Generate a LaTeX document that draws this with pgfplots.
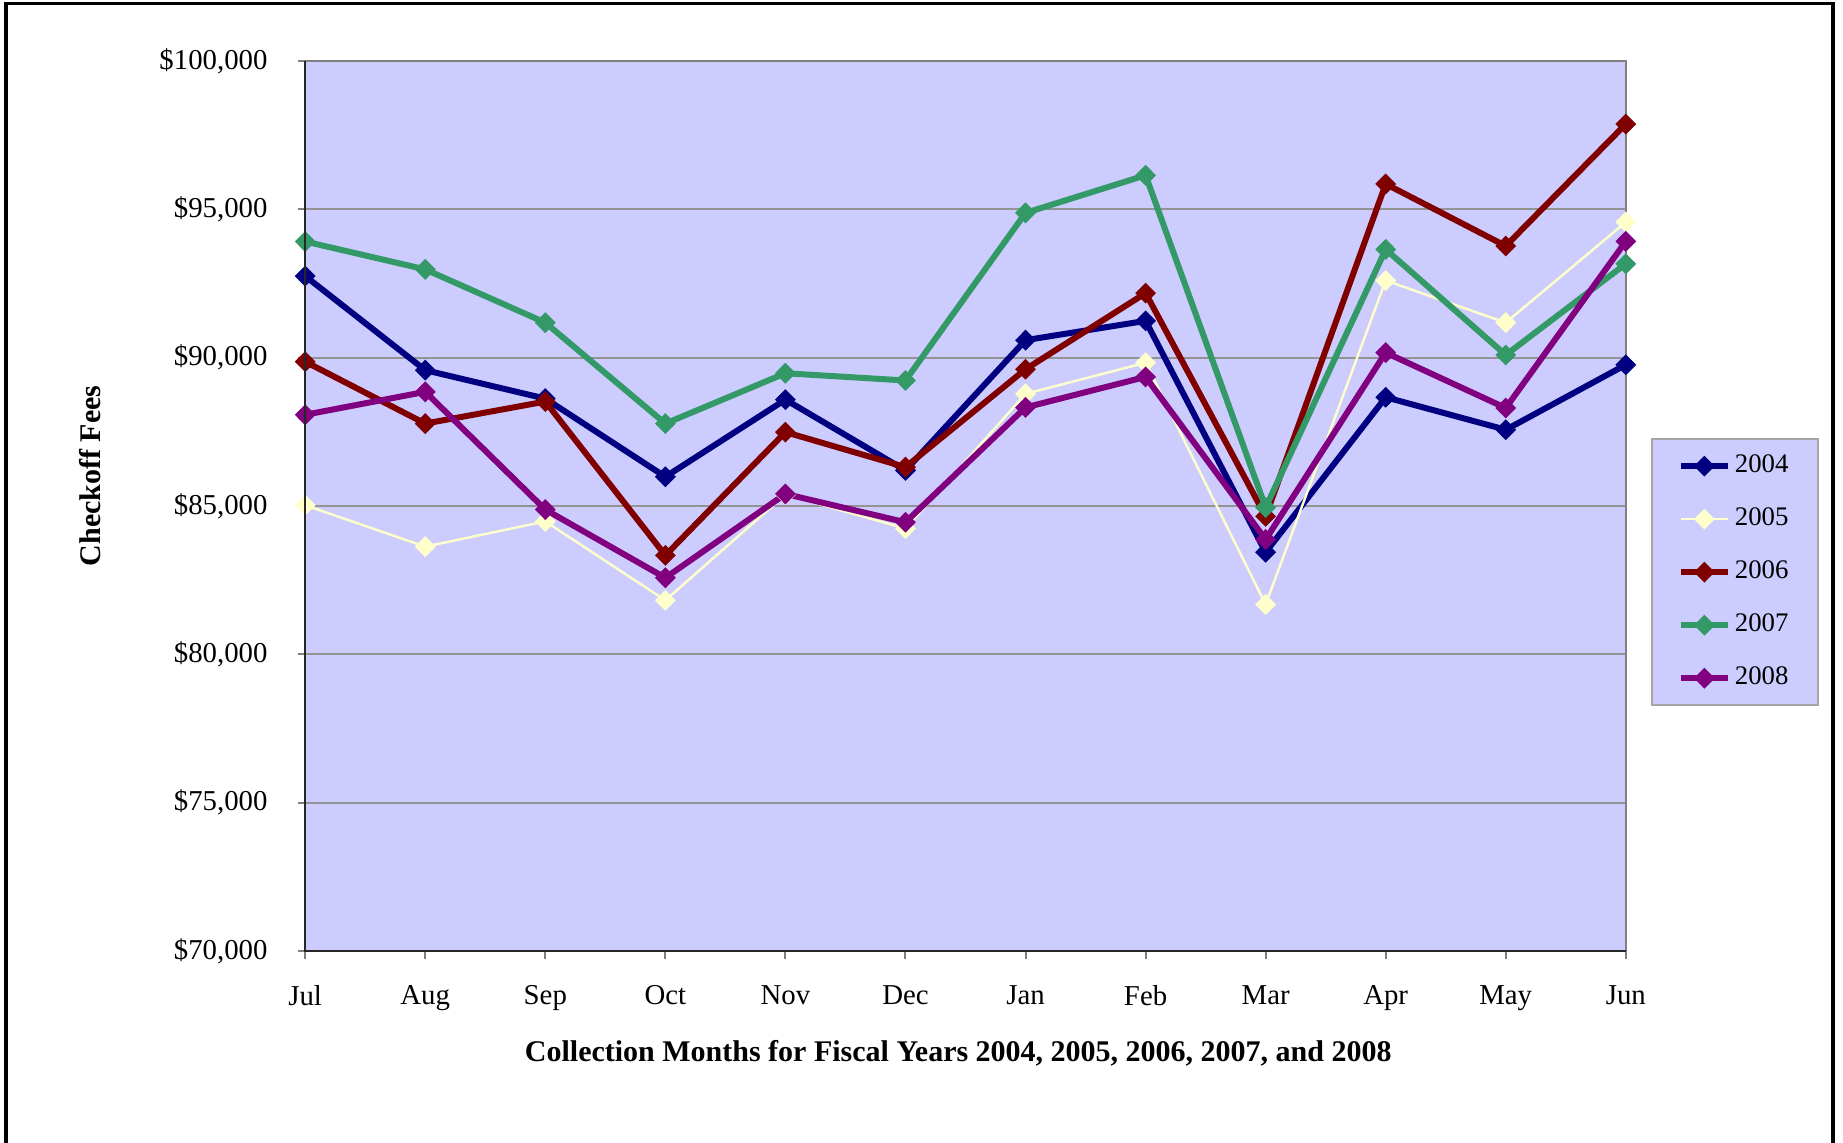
\documentclass[border=0pt]{standalone}
\usepackage{fontspec}
\setmainfont{Liberation Serif}
\usepackage{pgfplots}
\pgfplotsset{compat=1.18}
\definecolor{bgl}{RGB}{204,204,255}
\definecolor{c04}{RGB}{0,0,128}
\definecolor{c05}{RGB}{255,255,204}
\definecolor{c06}{RGB}{128,0,0}
\definecolor{c07}{RGB}{51,153,102}
\definecolor{c08}{RGB}{128,0,128}
\begin{document}
\begin{tikzpicture}
\useasboundingbox (0,0) rectangle (460.75pt,285.75pt);
\draw[line width=0.8pt] (1.5pt,-2pt) -- (1.5pt,284.9pt) -- (458.25pt,284.9pt) -- (458.25pt,-2pt);
\begin{axis}[
  at={(76.3pt,48pt)}, anchor=south west,
  width=330.15pt, height=222.5pt, scale only axis,
  xmin=0, xmax=11, ymin=70000, ymax=100000,
  scaled y ticks=false,
  xtick={0,...,11},
  xticklabels={Jul,Aug,Sep,Oct,Nov,Dec,Jan,Feb,Mar,Apr,May,Jun},
  ytick={70000,75000,...,100000},
  yticklabels={{\$70,000},{\$75,000},{\$80,000},{\$85,000},{\$90,000},{\$95,000},{\$100,000}},
  xtick pos=bottom, ytick pos=left,
  tick align=outside, major tick length=1.9pt,
  major tick style={gray, line width=0.5pt},
  xticklabel shift=3.3pt, yticklabel shift=4pt,
  tick label style={font=\fontsize{7.2}{8}\selectfont},
  /pgf/number format/assume math mode=true,
  ymajorgrids, major grid style={gray!85, line width=0.5pt},
  axis background/.style={fill=bgl},
  axis line style={gray, line width=0.5pt},
  xlabel={Collection Months for Fiscal Years 2004, 2005, 2006, 2007, and 2008},
  ylabel={Checkoff Fees},
  xlabel style={at={(axis description cs:0.4945,-0.1146)}, anchor=center, font=\bfseries\fontsize{7.5}{8}\selectfont},
  ylabel style={at={(axis description cs:-0.163,0.534)}, anchor=center, font=\bfseries\fontsize{7.5}{8}\selectfont},
  legend cell align=left,
  legend style={at={(axis description cs:1.019,0.5764)}, anchor=north west,
    fill=bgl, draw=gray!70, line width=0.5pt,
    inner xsep=6.5pt, inner ysep=2.8pt, row sep=5.3pt,
    font=\fontsize{6.7}{7}\selectfont, nodes={inner sep=1pt}},
  legend image code/.code={\draw[mark repeat=2,mark phase=2] plot coordinates {(0pt,0pt) (5.875pt,0pt) (11.75pt,0pt)};},
  after end axis/.code={\draw[black!85, line width=0.5pt] (rel axis cs:0,1) -- (rel axis cs:0,0) -- (rel axis cs:1,0);},
]
\addplot[c04, line width=1.5pt, mark=diamond*, mark size=2.4pt, mark options={solid, fill=c04, line width=0.3pt, xscale=1.33}] coordinates {
 (0,92750) (1,89578) (2,88620) (3,85985) (4,88585) (5,86200) (6,90590) (7,91240) (8,83440) (9,88665) (10,87570) (11,89760)};
\addlegendentry{2004}
\addplot[c05, line width=0.6pt, mark=diamond*, mark size=2.4pt, mark options={solid, fill=c05, line width=0.3pt, xscale=1.33}] coordinates {
 (0,85025) (1,83630) (2,84480) (3,81820) (4,85380) (5,84240) (6,88780) (7,89830) (8,81680) (9,92600) (10,91180) (11,94570)};
\addlegendentry{2005}
\addplot[c06, line width=1.5pt, mark=diamond*, mark size=2.4pt, mark options={solid, fill=c06, line width=0.3pt, xscale=1.33}] coordinates {
 (0,89865) (1,87778) (2,88520) (3,83335) (4,87490) (5,86310) (6,89610) (7,92175) (8,84650) (9,95855) (10,93765) (11,97875)};
\addlegendentry{2006}
\addplot[c07, line width=1.5pt, mark=diamond*, mark size=2.4pt, mark options={solid, fill=c07, line width=0.3pt, xscale=1.33}] coordinates {
 (0,93915) (1,92975) (2,91180) (3,87778) (4,89475) (5,89230) (6,94880) (7,96148) (8,84950) (9,93650) (10,90090) (11,93165)};
\addlegendentry{2007}
\addplot[c08, line width=1.5pt, mark=diamond*, mark size=2.4pt, mark options={solid, fill=c08, line width=0.3pt, xscale=1.33}] coordinates {
 (0,88075) (1,88848) (2,84878) (3,82580) (4,85405) (5,84452) (6,88323) (7,89350) (8,83870) (9,90170) (10,88303) (11,93920)};
\addlegendentry{2008}
\end{axis}
\end{tikzpicture}
\end{document}
